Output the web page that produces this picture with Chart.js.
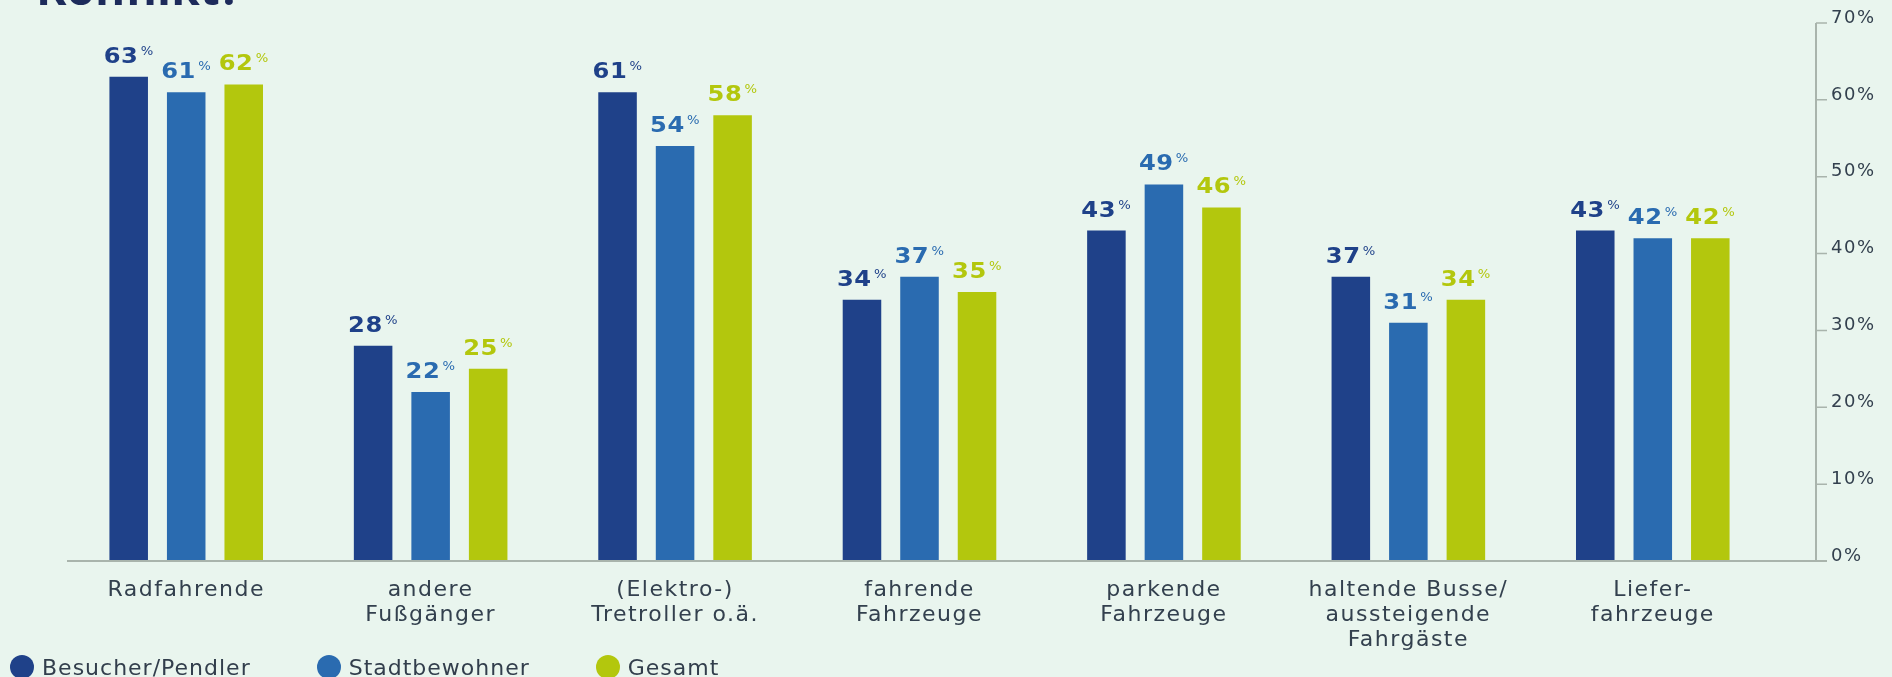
<!DOCTYPE html>
<html lang="de">
<head>
<meta charset="utf-8">
<script src="https://cdn.jsdelivr.net/npm/chart.js@4"></script>
<style>
html,body{margin:0;padding:0;background:#e9f5ee;overflow:hidden}
#wrap{position:relative;width:1892px;height:677px}
#titel{position:absolute;left:36px;top:-36px;margin:0;font:bold 46px "Open Sans";line-height:46px;color:#1d2b5b;white-space:nowrap}
#legende{position:absolute;left:10px;top:655px;height:24px;display:flex;align-items:center;gap:66px}
.eintrag{display:flex;align-items:center;gap:8px;font:22px "DejaVu Sans";letter-spacing:1px;color:#323e4c}
.punkt{width:24px;height:24px;border-radius:50%}
</style>
</head>
<body>
<div id="wrap">
<h1 id="titel">Konflikt?</h1>
<canvas id="grafik" width="1892" height="677"></canvas>
<div id="legende"></div>
</div>
<script>
const kategorien = [
"Radfahrende",
["andere","Fußgänger"],
["(Elektro-)","Tretroller o.ä."],
["fahrende","Fahrzeuge"],
["parkende","Fahrzeuge"],
["haltende Busse/","aussteigende","Fahrgäste"],
["Liefer-","fahrzeuge"]
];
const serien = ["Besucher/Pendler","Stadtbewohner","Gesamt"];
const besucher = [63,28,61,34,43,37,43];
const stadtbewohner = [61,22,54,37,49,31,42];
const gesamt = [62,25,58,35,46,34,42];
const farben = ["#1f4189","#2a6bb0","#b3c70d"];
const yTicks = [0,10,20,30,40,50,60,70];

const textfarbe = "#33404e";
const achsenfarbe = "#a9b4ac";

// Abstand zwischen Buchstaben wie im Original
const sperrung = {
id:"sperrung",
beforeUpdate(chart){ chart.ctx.letterSpacing = "1.5px"; },
beforeLayout(chart){ chart.ctx.letterSpacing = "1.5px"; },
beforeDraw(chart){ chart.ctx.letterSpacing = "1.5px"; }
};

// Werte über den Balken
const werte = {
id:"werte",
afterDatasetsDraw(chart){
const ctx = chart.ctx;
const sx = 1.1;
chart.data.datasets.forEach((ds, i) => {
chart.getDatasetMeta(i).data.forEach((bar, j) => {
const zahl = String(ds.data[j]);
ctx.save();
ctx.letterSpacing = "0.5px";
ctx.font = 'bold 22px "DejaVu Sans"';
const bz = ctx.measureText(zahl).width;
ctx.font = '12px "DejaVu Sans"';
const bp = ctx.measureText("%").width;
const breite = (bz + 2 + bp) * sx;
ctx.translate(bar.x - breite / 2, bar.y - 14);
ctx.scale(sx, 1);
ctx.fillStyle = ds.backgroundColor;
ctx.textAlign = "left";
ctx.textBaseline = "alphabetic";
ctx.font = 'bold 22px "DejaVu Sans"';
ctx.fillText(zahl, 0, 0);
ctx.font = '12px "DejaVu Sans"';
ctx.fillText("%", bz + 2, -8);
ctx.restore();
});
});
}
};

// Grundlinie und rechte Achse
const achsen = {
id:"achsen",
afterDraw(chart){
const ctx = chart.ctx;
const y = chart.scales.y;
const flaeche = chart.chartArea;
const ax = flaeche.right + 41;
const y0 = y.getPixelForValue(0);
ctx.save();
ctx.strokeStyle = achsenfarbe;
ctx.lineWidth = 2;
ctx.beginPath();
ctx.moveTo(flaeche.left + 3, y0);
ctx.lineTo(ax + 11, y0);
ctx.moveTo(ax, y.getPixelForValue(yTicks[yTicks.length - 1]));
ctx.lineTo(ax, y0);
ctx.stroke();
ctx.lineWidth = 1.5;
ctx.beginPath();
yTicks.forEach(v => {
const p = y.getPixelForValue(v);
ctx.moveTo(ax, p);
ctx.lineTo(ax + 11, p);
});
ctx.stroke();
ctx.restore();
}
};

const daten = [besucher, stadtbewohner, gesamt];

new Chart(document.getElementById("grafik"), {
type:"bar",
data:{
labels:kategorien,
datasets:serien.map((name, i) => ({
label:name,
data:daten[i],
backgroundColor:farben[i],
categoryPercentage:0.706,
barPercentage:0.67
}))
},
options:{
responsive:false,
animation:false,
layout:{padding:{left:64,top:23,right:0,bottom:0}},
plugins:{
legend:{display:false},
tooltip:{enabled:false}
},
scales:{
x:{
grid:{display:false,drawTicks:false},
border:{display:false},
ticks:{
color:textfarbe,
font:{family:"DejaVu Sans",size:22,lineHeight:1.14},
padding:17,
autoSkip:false,
maxRotation:0
},
afterFit(s){ s.height = 116; }
},
y:{
position:"right",
min:0,
max:70,
grid:{display:false,drawTicks:true,tickLength:52},
border:{display:false},
afterBuildTicks(s){ s.ticks = yTicks.map(v => ({value:v})); },
ticks:{
color:textfarbe,
font:{family:"DejaVu Sans",size:18},
padding:4,
labelOffset:-5,
callback:v => v + "%"
},
afterFit(s){ s.width = 117; }
}
}
},
plugins:[sperrung, werte, achsen]
});

const legende = document.getElementById("legende");
serien.forEach((name, i) => {
const e = document.createElement("div");
e.className = "eintrag";
const p = document.createElement("span");
p.className = "punkt";
p.style.background = farben[i];
const t = document.createElement("span");
t.textContent = name;
e.appendChild(p);
e.appendChild(t);
legende.appendChild(e);
});
</script>
</body>
</html>
